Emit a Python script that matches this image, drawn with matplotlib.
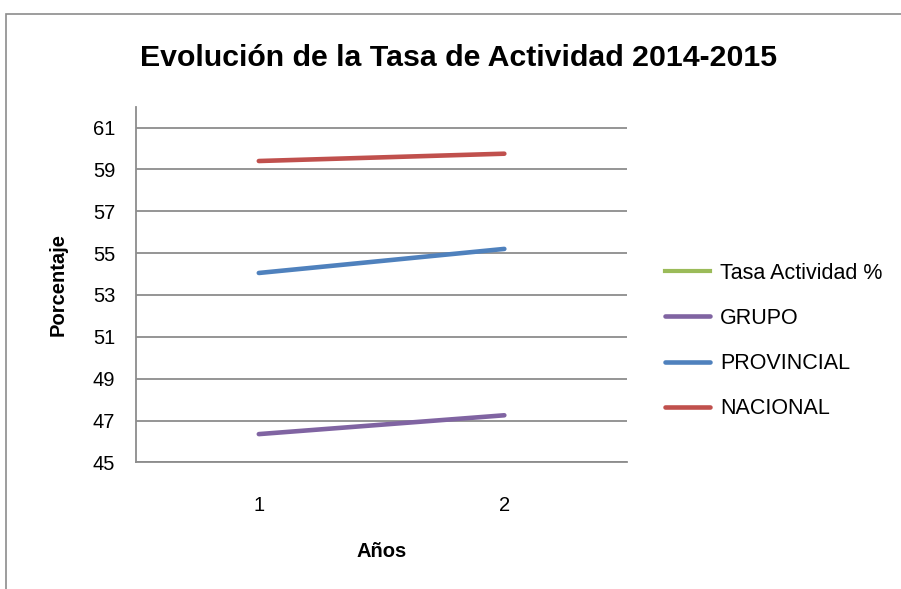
import matplotlib
matplotlib.use("Agg")
import matplotlib.pyplot as plt
from matplotlib.patches import Rectangle

plt.rcParams['font.family'] = ['Liberation Sans', 'DejaVu Sans']

# datos
anios = [1, 2]
tasa_actividad = [None, None]
grupo = [46.35, 47.25]
provincial = [54.05, 55.2]
nacional = [59.4, 59.75]

fig = plt.figure(figsize=(9.01, 5.89), dpi=100)
ax = fig.add_axes([0.151, 0.215, 0.545, 0.604])

# marco del grafico
fig.patches.append(Rectangle((5.5 / 901, -0.05), 1.0, 1 - 14 / 589 + 0.05,
                             transform=fig.transFigure, fill=False,
                             edgecolor='#8c8c8c', linewidth=1.2))

x = [0.5, 1.5]
ax.plot([], [], color='#9bbb59', lw=3, label='Tasa Actividad %')
ax.plot(x, grupo, color='#8064a2', lw=3.3, solid_capstyle='round', label='GRUPO')
ax.plot(x, provincial, color='#4f81bd', lw=3.3, solid_capstyle='round', label='PROVINCIAL')
ax.plot(x, nacional, color='#c0504d', lw=3.3, solid_capstyle='round', label='NACIONAL')

ax.set_xlim(0, 2)
ax.set_ylim(45, 62)
ax.set_yticks(range(45, 62, 2))
ax.set_xticks(x)
ax.set_xticklabels([str(a) for a in anios])
ax.yaxis.grid(True, color='#8c8c8c', lw=1.3)
ax.set_axisbelow(True)

for s in ['top', 'right']:
    ax.spines[s].set_visible(False)
ax.spines['left'].set_color('#8c8c8c')
ax.spines['bottom'].set_color('#8c8c8c')
ax.spines['left'].set_linewidth(1.3)
ax.spines['bottom'].set_linewidth(1.3)
ax.tick_params(axis='y', length=0, labelsize=14.5, pad=15)
ax.tick_params(axis='x', length=0, labelsize=14.5, pad=24)

ax.set_ylabel('Porcentaje', fontsize=14.5, fontweight='bold', labelpad=18)
ax.set_xlabel('Años', fontsize=14.5, fontweight='bold', labelpad=20)

fig.text(0.509, 0.902, 'Evolución de la Tasa de Actividad 2014-2015',
         ha='center', va='center', fontsize=21.8, fontweight='bold')

handles, labels = ax.get_legend_handles_labels()
fig.legend(handles, labels, loc='center left', bbox_to_anchor=(0.738, 0.421),
           frameon=False, fontsize=15.5, handlelength=2.1, labelspacing=1.12,
           handletextpad=0.47, borderpad=0, borderaxespad=0)

fig.savefig('out.png', dpi=100)
